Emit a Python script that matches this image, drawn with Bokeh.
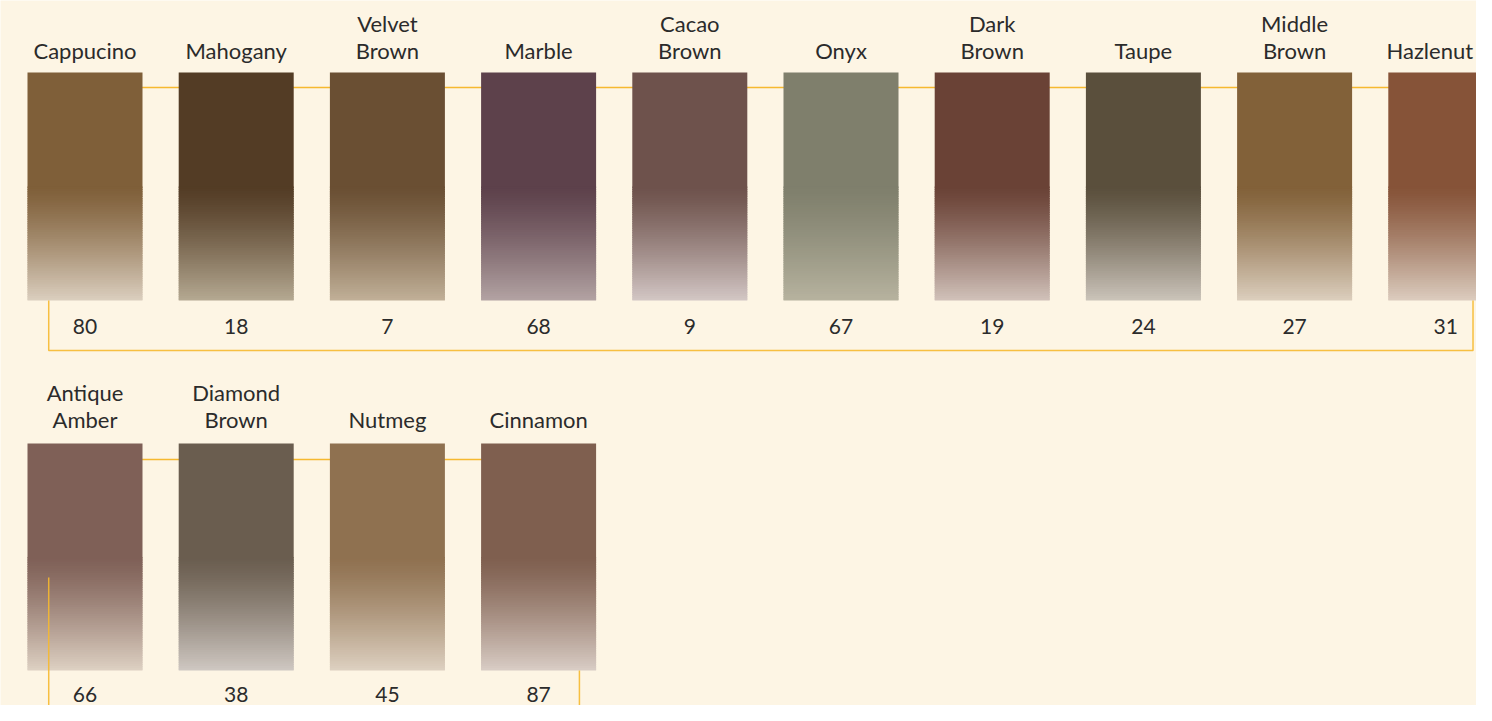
from bokeh.plotting import figure
from bokeh.models import Range1d, ColumnDataSource
from bokeh.core.properties import value
from bokeh.embed import file_html
from bokeh.resources import INLINE

# ---------------- data ----------------
names_row1 = ["Cappucino", "Mahogany", "Velvet\nBrown", "Marble", "Cacao\nBrown",
              "Onyx", "Dark\nBrown", "Taupe", "Middle\nBrown", "Hazlenut"]
values_row1 = [80, 18, 7, 68, 9, 67, 19, 24, 27, 31]
names_row2 = ["Antique\nAmber", "Diamond\nBrown", "Nutmeg", "Cinnamon"]
values_row2 = [66, 38, 45, 87]

# ---------------- styles ----------------
top_colors_row1 = ["#7f5f39", "#533c25", "#6a4f33", "#5d414b", "#6e524c",
                   "#7f7f6c", "#6a4236", "#5a4f3c", "#826139", "#865338"]
bottom_colors_row1 = ["#dbcfbf", "#b5a992", "#c1b098", "#b3a3a3", "#d3c7c5",
                      "#b7b39f", "#d1c2ba", "#cbc4ba", "#dccfbe", "#dccdbf"]
top_colors_row2 = ["#7f6057", "#6a5d4f", "#8f7150", "#7f5f4f"]
bottom_colors_row2 = ["#ded1c3", "#cfc8c2", "#ded1c1", "#d9cdc5"]

BG = "#fdf5e4"
GOLD = "#f6b92f"
TEXT = "#2b2b2b"
FONT = "Lato"

W, H = 1476, 705
PITCH = 151.2
X0 = 84.5
HALF = 57.5 / PITCH


def hex2rgb(h):
    h = h.lstrip("#")
    return tuple(int(h[i:i + 2], 16) for i in (0, 2, 4))


def mix(c1, c2, t):
    a, b = hex2rgb(c1), hex2rgb(c2)
    return "#%02x%02x%02x" % tuple(int(round(a[i] + (b[i] - a[i]) * t)) for i in range(3))


p = figure(width=W, height=H,
           x_range=Range1d(-X0 / PITCH, (W - X0) / PITCH),
           y_range=Range1d(H, 0),
           output_backend="svg", toolbar_location=None, min_border=0,
           x_axis_location=None, y_axis_location=None)
p.grid.visible = False
p.outline_line_color = None
p.background_fill_color = BG
p.border_fill_color = BG

rows = [
    dict(names=names_row1, vals=values_row1, tops=top_colors_row1, bots=bottom_colors_row1,
         top=72, bottom=300, label_y=63, num_y=326, line_y=87,
         br_left=-0.24, br_right=9.18, br_y=350, br_start_left=300, br_start_right=300),
    dict(names=names_row2, vals=values_row2, tops=top_colors_row2, bots=bottom_colors_row2,
         top=443, bottom=670, label_y=432, num_y=694, line_y=459,
         br_left=-0.24, br_right=3.27, br_y=760, br_start_left=577, br_start_right=670),
]

N_STRIPS = 50
for r in rows:
    n = len(r["names"])
    xs = list(range(n))
    # connecting line behind swatches
    p.line([0, n - 1], [r["line_y"], r["line_y"]], line_color=GOLD, line_width=1.5)

    # swatches: solid top part + gradient strips (each strip overlaps the next one)
    split = r["top"] + 0.50 * (r["bottom"] - r["top"])
    L, R, T, B, C = [], [], [], [], []
    for i in xs:
        L.append(i - HALF); R.append(i + HALF); T.append(r["top"]); B.append(split + 1.5)
        C.append(r["tops"][i])
        step = (r["bottom"] - split) / N_STRIPS
        for k in range(N_STRIPS):
            t0 = split + k * step
            t = ((k + 0.5) / N_STRIPS) ** 1.25
            L.append(i - HALF); R.append(i + HALF)
            T.append(t0); B.append(min(t0 + step + 1.5, r["bottom"]))
            C.append(mix(r["tops"][i], r["bots"][i], t))
    p.quad(source=ColumnDataSource(dict(left=L, right=R, top=T, bottom=B, color=C)),
           left="left", right="right", top="top", bottom="bottom",
           fill_color="color", line_color=None)

    # labels
    offs = [0.0] * n
    if n == 10:
        offs[-1] = -16.0   # keep the last label inside the page edge
    src = ColumnDataSource(dict(x=xs, name=r["names"], val=[str(v) for v in r["vals"]],
                                ly=[r["label_y"]] * n, ny=[r["num_y"]] * n, off=offs))
    p.text(x="x", y="ly", text="name", source=src, text_align="center",
           text_baseline="bottom", text_font=value(FONT), text_font_size="22px",
           text_color=TEXT, text_line_height=1.0, x_offset="off")
    p.text(x="x", y="ny", text="val", source=src, text_align="center",
           text_baseline="middle", text_font=value(FONT), text_font_size="21px",
           text_color=TEXT)

    # bracket
    p.line([r["br_left"], r["br_left"], r["br_right"], r["br_right"]],
           [r["br_start_left"], r["br_y"], r["br_y"], r["br_start_right"]],
           line_color=GOLD, line_width=1.5, line_alpha=0.9)

open("out.html", "w").write(file_html(p, INLINE))
